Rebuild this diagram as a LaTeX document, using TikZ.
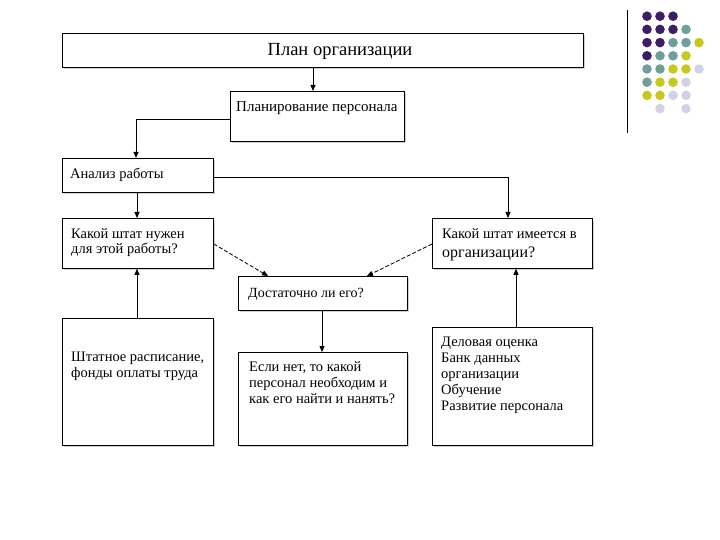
\documentclass[tikz,border=0pt]{standalone}
\usepackage{fontspec}
\setmainfont{Liberation Serif}
\usetikzlibrary{arrows.meta,shadows}
\definecolor{dpurple}{HTML}{3C1E64}
\definecolor{dteal}{HTML}{6E9E9E}
\definecolor{dyellow}{HTML}{C8C81E}
\definecolor{dlav}{HTML}{D2D2E6}
\newcommand{\mylines}[1]{\begin{tabular}[t]{@{}l@{}}#1\end{tabular}}
\tikzset{
  box/.style={draw=black, line width=0.8pt, fill=white, inner sep=0pt, anchor=north west,
    drop shadow={shadow xshift=1.2pt, shadow yshift=-1.2pt, fill=black!30, opacity=0.6}},
  txt/.style={inner sep=0pt, anchor=base west, font=\fontsize{14.5}{16}\selectfont},
  arr/.style={line width=0.8pt, -{Triangle[length=6pt,width=5pt]}},
  dsh/.style={arr, dash pattern=on 4pt off 2pt},
}
\begin{document}
\begin{tikzpicture}[x=1pt,y=-1pt]
\useasboundingbox (0,0) rectangle (720,540);
% decoration
\draw[line width=0.9pt] (627,10) -- (627,133);
\foreach \c/\r/\col in {1/1/dpurple,2/1/dpurple,3/1/dpurple,
  1/2/dpurple,2/2/dpurple,3/2/dpurple,4/2/dteal,
  1/3/dpurple,2/3/dpurple,3/3/dteal,4/3/dteal,5/3/dyellow,
  1/4/dpurple,2/4/dteal,3/4/dteal,4/4/dyellow,
  1/5/dteal,2/5/dteal,3/5/dyellow,4/5/dyellow,5/5/dlav,
  1/6/dteal,2/6/dyellow,3/6/dyellow,4/6/dlav,
  1/7/dyellow,2/7/dyellow,3/7/dlav,4/7/dlav,
  2/8/dlav,4/8/dlav}
  \fill[\col] ({634+13*\c},{3+13.2*\r}) circle (4.8);
% boxes
\node[box, minimum width=521, minimum height=34] (title) at (62,33) {};
\node[box, minimum width=174, minimum height=50] (pp) at (230,91) {};
\node[box, minimum width=151, minimum height=34] (an) at (62,158) {};
\node[box, minimum width=151, minimum height=50] (kn) at (62,218) {};
\node[box, minimum width=160, minimum height=50] (ki) at (432,218) {};
\node[box, minimum width=169, minimum height=34] (dl) at (238,276) {};
\node[box, minimum width=169, minimum height=93] (en) at (238,352) {};
\node[box, minimum width=151, minimum height=127] (sh) at (62,318) {};
\node[box, minimum width=160, minimum height=118] (dc) at (432,327) {};
% texts
\node[inner sep=0pt, anchor=base, font=\fontsize{18.5}{20}\selectfont] (ttitle) at (340,56) {План организации};
\node[txt, font=\fontsize{15}{16}\selectfont] (tpp) at (236,112) {Планирование персонала};
\node[txt] (tan) at (70,179) {Анализ работы};
\node[txt] (tkn) at (71,238) {\mylines{Какой штат нужен\\для этой работы?}};
\node[txt] (tki) at (442,238) {\mylines{Какой штат имеется в\\[3pt]{\fontsize{16}{17}\selectfont организации?}}};
\node[txt, font=\fontsize{14}{16}\selectfont] (tdl) at (248,297) {Достаточно ли его?};
\node[txt] (ten) at (249,371) {\mylines{Если нет, то какой\\персонал необходим и\\как его найти и нанять?}};
\node[txt] (tsh) at (71,361) {\mylines{Штатное расписание,\\фонды оплаты труда}};
\node[txt] (tdc) at (441,346) {\mylines{Деловая оценка\\Банк данных\\организации\\Обучение\\Развитие персонала}};
% connectors
\draw[arr] (title.south -| 313,0) -- (pp.north -| 313,0);
\draw[arr] (pp.west |- 0,119) -| (an.north -| 136,0);
\draw[arr] (an.east |- 0,177) -| (ki.north -| 508,0);
\draw[arr] (an.south -| 137,0) -- (kn.north -| 137,0);
\draw[dsh] (kn.east |- 0,244) -- (dl.north -| 268,0);
\draw[dsh] (ki.west |- 0,244) -- (dl.north -| 367,0);
\draw[arr] (dl.south -| 322,0) -- (en.north -| 322,0);
\draw[arr] (sh.north -| 137,0) -- (kn.south -| 137,0);
\draw[arr] (dc.north -| 516,0) -- (ki.south -| 516,0);
\end{tikzpicture}
\end{document}
